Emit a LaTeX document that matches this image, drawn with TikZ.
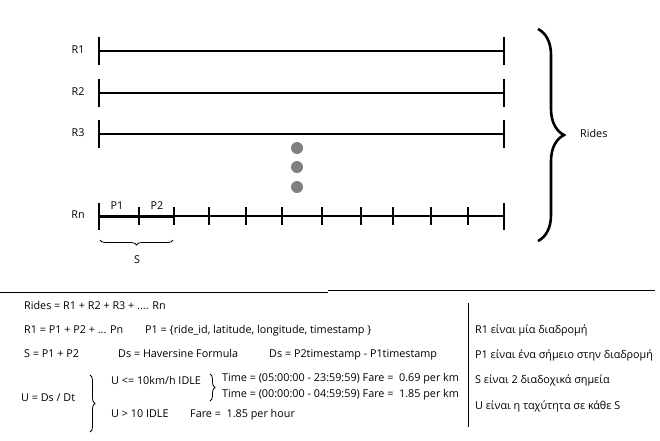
\documentclass[tikz,border=0pt]{standalone}
\usepackage{fontspec}
\setmainfont{Open Sans}
\usetikzlibrary{decorations.pathreplacing}
\begin{document}
\begin{tikzpicture}[x=1pt,y=-1pt,
  txt/.style={inner sep=0pt, anchor=west, font=\fontsize{10.8}{13}\selectfont, text height=7.5pt, text depth=2pt},
  lbl/.style={inner sep=0pt, font=\fontsize{10.8}{13}\selectfont, text height=7.5pt, text depth=2pt},
  ride/.style={line width=1.1pt},
  tick/.style={line width=1.1pt},
  bigbrace/.style={decorate, decoration={brace, amplitude=26pt}, line width=2.6pt},
  smallbrace/.style={decorate, decoration={brace, amplitude=5pt}, line width=0.8pt},
  dot/.style={circle, fill=black!50, inner sep=0pt, minimum size=12pt}
]
\useasboundingbox (0,0) rectangle (660,440);
\fill[white] (0,0) rectangle (660,440);
% ride lines
\foreach \n/\y in {1/51,2/93,3/134}{
  \coordinate (a\n) at (99,\y);
  \coordinate (b\n) at (504,\y);
  \draw[ride] (a\n) -- (b\n);
  \draw[tick] ([yshift=-14pt]a\n) -- ([yshift=14pt]a\n);
  \draw[tick] ([yshift=-14pt]b\n) -- ([yshift=14pt]b\n);
  \node[lbl] (r\n) at (78,\y) {R\n};
}
% dots
\node[dot] (d1) at (297,148) {};
\node[dot] (d2) at (297,167) {};
\node[dot] (d3) at (297,187) {};
% Rn
\coordinate (an) at (99,216);
\coordinate (bn) at (504,216);
\coordinate (p2) at (174,216);
\node[lbl] (rn) at (78,216) {Rn};
\draw[ride] (p2) -- (bn);
\draw[line width=3pt] (an) -- (p2);
\draw[tick] (99,203) -- (99,230);
\draw[tick] (504,203) -- (504,230);
\foreach \x in {139,174,209,246,282,322,361,393,431,468}{
  \draw[tick] (\x,207) -- (\x,225);
}
\node[lbl] (P1) at (117,207) {P1};
\node[lbl] (P2) at (157,207) {P2};
\coordinate (sb1) at (100,240);
\coordinate (sb2) at (173,240);
\draw[smallbrace] (sb2) -- (sb1);
\node[lbl] (S) at (137,261) {S};
% big brace
\coordinate (bb1) at (538,29);
\coordinate (bb2) at (538,241);
\draw[bigbrace] (bb1) -- (bb2);
\node[txt] (rides) at (580,135) {Rides};
% separator
\coordinate (s0) at (0,292);
\coordinate (s1) at (328,292);
\coordinate (s2) at (328,290);
\coordinate (s3) at (655,290);
\draw[line width=0.9pt] (s0) -- (s1);
\draw[line width=0.9pt] (s2) -- (s3);
% vertical divider
\coordinate (v1) at (468,303);
\coordinate (v2) at (468,427);
\draw[line width=0.9pt] (v1) -- (v2);
% formulas
\node[txt] (f1) at (24,307) {Rides = R1 + R2 + R3 + .... Rn};
\node[txt] (f2) at (24,331) {R1 = P1 + P2 + ... Pn};
\node[txt] (f3) at (145,331) {P1 = \{ride\_id, latitude, longitude, timestamp \}};
\node[txt] (f4) at (24,355) {S = P1 + P2};
\node[txt] (f5) at (118,355) {Ds = Haversine Formula};
\node[txt] (f6) at (269,355) {Ds = P2timestamp - P1timestamp};
\node[txt] (f7) at (21,399) {U = Ds / Dt};
\coordinate (br1a) at (90,375);
\coordinate (br1b) at (90,432);
\draw[smallbrace] (br1a) -- (br1b);
\node[txt] (f8) at (111,382) {U <= 10km/h IDLE};
\coordinate (br2a) at (210,374);
\coordinate (br2b) at (210,401);
\draw[smallbrace] (br2a) -- (br2b);
\node[txt] (f9) at (222,379) {Time = (05:00:00 - 23:59:59) Fare = ~0.69 per km};
\node[txt] (f10) at (222,395) {Time = (00:00:00 - 04:59:59) Fare = ~1.85 per km};
\node[txt] (f11) at (111,415) {U > 10 IDLE};
\node[txt] (f12) at (190,415) {Fare = ~1.85 per hour};
% right notes
\node[txt] (g1) at (475,331) {R1 είναι μία διαδρομή};
\node[txt] (g2) at (475,356) {P1 είναι ένα σήμειο στην διαδρομή};
\node[txt] (g3) at (475,381) {S είναι 2 διαδοχικά σημεία};
\node[txt] (g4) at (475,407) {U είναι η ταχύτητα σε κάθε S};
\end{tikzpicture}
\end{document}
